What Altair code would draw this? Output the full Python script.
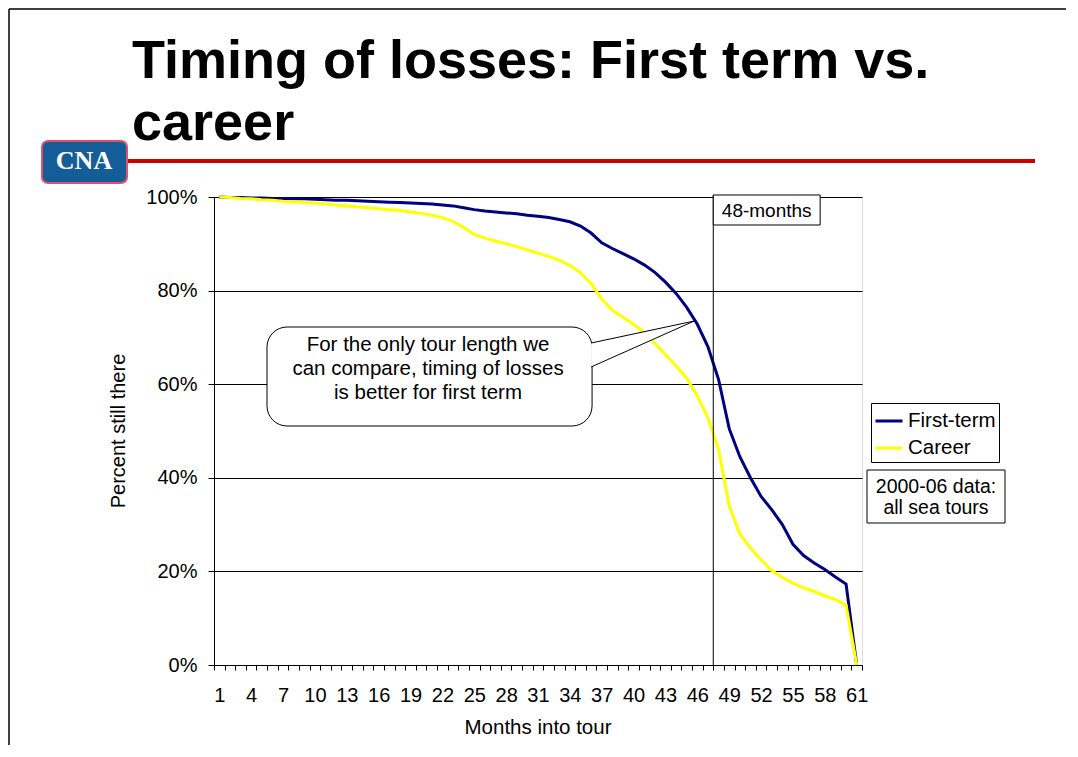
import altair as alt
import pandas as pd

FONT = "Liberation Sans"

# ---- data ----
months = list(range(1, 62))
first_term = [100.0, 99.9, 99.9, 99.8, 99.8, 99.7, 99.7, 99.6, 99.6, 99.5,
              99.4, 99.3, 99.3, 99.2, 99.1, 99.0, 98.9, 98.8, 98.7, 98.6,
              98.5, 98.3, 98.1, 97.7, 97.3, 97.0, 96.8, 96.6, 96.4, 96.1,
              95.9, 95.6, 95.2, 94.7, 93.8, 92.3, 90.2, 89.0, 87.9, 86.8,
              85.5, 83.9, 81.8, 79.4, 76.4, 72.8, 68.0, 61.0, 50.5, 44.5,
              40.0, 36.0, 33.2, 30.0, 25.8, 23.4, 21.8, 20.4, 18.8, 17.3,
              0.0]
career = [100.0, 99.9, 99.7, 99.6, 99.4, 99.3, 99.1, 99.0, 98.8, 98.7,
          98.5, 98.3, 98.1, 97.9, 97.7, 97.5, 97.3, 97.1, 96.8, 96.5,
          96.1, 95.6, 94.8, 93.5, 92.0, 91.2, 90.6, 90.0, 89.4, 88.7,
          88.0, 87.3, 86.5, 85.4, 83.8, 81.5, 78.2, 75.8, 74.3, 72.8,
          71.0, 68.7, 66.3, 63.9, 61.3, 57.5, 52.8, 46.0, 34.0, 28.0,
          25.0, 22.5, 20.2, 18.7, 17.5, 16.5, 15.7, 14.8, 14.0, 12.8,
          0.0]
series_names = ["First-term", "Career"]
series_colors = ["#000080", "#FFFF00"]
y_ticks = [0, 20, 40, 60, 80, 100]
x_tick_bounds = [k + 0.5 for k in range(0, 62)]

title_lines = ["Timing of losses: First term vs.", "career"]
callout_lines = ["For the only tour length we",
                 "can compare, timing of losses",
                 "is better for first term"]
note_lines = ["2000-06 data:", "all sea tours"]

rows = []
for name, vals in zip(series_names, [first_term, career]):
    for m, v in zip(months, vals):
        rows.append({"month": m, "pct": v, "series": name})
df = pd.DataFrame(rows)

x_scale = alt.Scale(domain=[0.5, 61.5], nice=False, zero=False)
y_scale = alt.Scale(domain=[0, 100], nice=False, zero=False)

x_axis = alt.Axis(values=x_tick_bounds,
                  labelExpr="((datum.value - 0.5) % 3 == 0 && datum.value < 61) ? format(datum.value + 0.5, 'd') : ''",
                  labelOffset=5.31, tickSize=5, tickColor="black", domainColor="black",
                  labelFontSize=20, labelFont=FONT, labelColor="black", labelPadding=15,
                  grid=False, labelOverlap=False, labelFlush=False)
y_axis = alt.Axis(values=y_ticks, labelExpr="datum.value + '%'", grid=True,
                  gridColor="black", gridWidth=1, tickSize=6, tickColor="black",
                  domainColor="black", labelFontSize=20, labelFont=FONT,
                  labelColor="black", labelPadding=11)


def X(field):
    return alt.X(field, type="quantitative", scale=x_scale, axis=x_axis, title=None)


def Y(field):
    return alt.Y(field, type="quantitative", scale=y_scale, axis=y_axis, title=None)


lines = alt.Chart(df).mark_line(strokeWidth=3).encode(
    x=X("month"),
    y=Y("pct"),
    color=alt.Color("series:N",
                    scale=alt.Scale(domain=series_names, range=series_colors),
                    sort=series_names,
                    legend=alt.Legend(title=None, orient="none", legendX=657, legendY=206,
                                      direction="vertical", symbolType="stroke",
                                      symbolSize=729, symbolStrokeWidth=3,
                                      labelFontSize=20.5, labelFont=FONT, labelColor="black",
                                      strokeColor="black", fillColor="white",
                                      padding=3, rowPadding=1, labelOffset=4)),
)

one = pd.DataFrame({"k": [0]})

# ---- in-plot annotations (data coordinates) ----
rule48 = alt.Chart(pd.DataFrame({"month": [47.5], "y0": [0], "y1": [100.43]})).mark_rule(
    color="black", strokeWidth=1).encode(x=X("month"), y=Y("y0"), y2="y1")
box48 = alt.Chart(pd.DataFrame({"a": [47.5], "b": [57.56], "c": [94.02], "d": [100.43]})).mark_rect(
    fill="white", stroke="black", strokeWidth=1).encode(x=X("a"), x2="b", y=Y("c"), y2="d")
text48 = alt.Chart(pd.DataFrame({"a": [52.53], "c": [95.73]})).mark_text(
    text="48-months", font=FONT, fontSize=19, color="black", align="center",
    baseline="alphabetic").encode(x=X("a"), y=Y("c"))

bubble = alt.Chart(pd.DataFrame({"a": [5.49], "b": [36.09], "c": [51.07], "d": [72.22]})).mark_rect(
    fill="white", stroke="black", strokeWidth=1, cornerRadius=20).encode(
    x=X("a"), x2="b", y=Y("c"), y2="d")
wedge = alt.Chart(pd.DataFrame({"a": [36.0, 45.7], "c": [63.68, 73.5], "d": [68.8, 73.5]})).mark_area(
    fill="white", opacity=1).encode(x=X("a"), y=Y("c"), y2="d")
wedge_edges = alt.Chart(pd.DataFrame({"a": [36.0, 36.0], "b": [45.7, 45.7],
                                      "c": [68.8, 63.68], "d": [73.5, 73.5]})).mark_rule(
    color="black", strokeWidth=1).encode(x=X("a"), x2="b", y=Y("c"), y2="d")
callout_text = alt.Chart(pd.DataFrame({"a": [20.65] * 3, "c": [67.09, 61.97, 56.84],
                                       "t": callout_lines})).mark_text(
    font=FONT, fontSize=20.5, color="black", align="center", baseline="alphabetic").encode(
    x=X("a"), y=Y("c"), text="t:N")

# ---- slide decorations (pixel offsets from plot origin) ----
def ptext(text, x, y, **kw):
    return alt.Chart(one).mark_text(text=text, **kw).encode(x=alt.value(x), y=alt.value(y))


def prule(x, y, x2=None, y2=None, **kw):
    enc = {"x": alt.value(x), "y": alt.value(y)}
    if x2 is not None:
        enc["x2"] = alt.value(x2)
    if y2 is not None:
        enc["y2"] = alt.value(y2)
    return alt.Chart(one).mark_rule(**kw).encode(**enc)


def prect(x, x2, y, y2, **kw):
    return alt.Chart(one).mark_rect(**kw).encode(
        x=alt.value(x), x2=alt.value(x2), y=alt.value(y), y2=alt.value(y2))


frame_top = prule(-205, -188, x2=852, y2=-188, color="black", strokeWidth=1.5)
frame_left = prule(-205, -188, x2=-205, y2=548, color="black", strokeWidth=1.5)
title1 = ptext(title_lines[0], -82, -119, font=FONT, fontSize=54, fontWeight="bold",
               color="black", align="left", baseline="alphabetic")
title2 = ptext(title_lines[1], -82, -57, font=FONT, fontSize=54, fontWeight="bold",
               color="black", align="left", baseline="alphabetic")
red_line = prule(-91, -36, x2=821, y2=-36, color="#CC0000", strokeWidth=4)
logo_box = prect(-172, -87, -56, -14, fill="#155D98", stroke="#E0506E", strokeWidth=2,
                 cornerRadius=6)
logo_text = ptext("CNA", -130, -28, font="Liberation Serif", fontSize=26, fontWeight="bold",
                  color="white", align="center", baseline="alphabetic")
y_title = ptext("Percent still there", -95, 234, font=FONT, fontSize=20, color="black",
                angle=270, align="center", baseline="middle")
x_title = ptext("Months into tour", 324, 537, font=FONT, fontSize=20.5, color="black",
                align="center", baseline="alphabetic")
note_box = prect(653, 791, 273, 326, fill="white", stroke="black", strokeWidth=1)
note1 = ptext(note_lines[0], 722, 296, font=FONT, fontSize=19.5, color="black",
              align="center", baseline="alphabetic")
note2 = ptext(note_lines[1], 722, 317, font=FONT, fontSize=19.5, color="black",
              align="center", baseline="alphabetic")

chart = alt.layer(
    frame_top, frame_left, title1, title2, red_line, logo_box, logo_text,
    lines, rule48, box48, text48, bubble, wedge, wedge_edges, callout_text,
    y_title, x_title, note_box, note1, note2,
).properties(
    width=648, height=468,
    autosize=alt.AutoSizeParams(type="none"),
    padding={"left": 206, "top": 189, "right": 204, "bottom": 80},
).configure_view(stroke=None).configure(background="white")

chart.save("out.html", embed_options={"renderer": "svg", "actions": False})
